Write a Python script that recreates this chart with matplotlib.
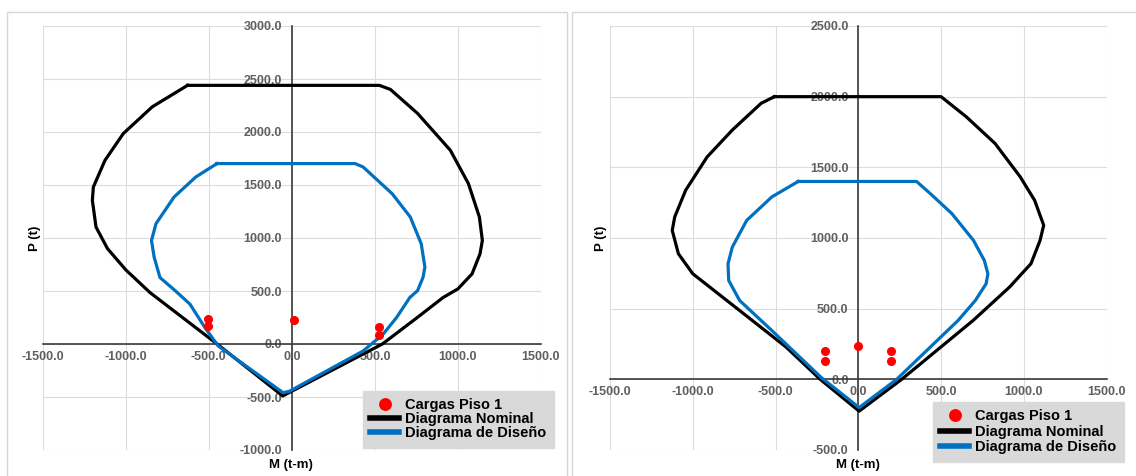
import matplotlib
matplotlib.use("Agg")
import matplotlib.pyplot as plt
from matplotlib.patches import Rectangle

plt.rcParams['font.family'] = ['Liberation Sans', 'DejaVu Sans']

# ---- Column A : interaction diagram (left) ----
M_nom_a = [-628, 527, 593, 757, 954, 1063, 1129, 1147, 1133, 1085, 1000, 910, 757, 545,
           -55, -450, -854, -1000, -1110, -1179, -1201, -1195, -1125, -1015, -840, -628]
P_nom_a = [2440, 2440, 2402, 2175, 1828, 1513, 1198, 977, 851, 662, 520, 438, 252, 0,
           -490, 0, 485, 700, 900, 1103, 1355, 1481, 1733, 1985, 2238, 2440]

M_dis_a = [-451, 381, 429, 604, 713, 779, 801, 790, 757, 710, 630, 549, 429, -12,
           -52, -443, -523, -613, -700, -794, -829, -845, -818, -709, -578, -451]
P_dis_a = [1702, 1702, 1670, 1418, 1198, 945, 725, 630, 504, 438, 249, 92, -66, -444,
           -460, -19, 154, 375, 500, 627, 819, 977, 1135, 1387, 1576, 1702]

M_load_a = [-503, -503, 12, 525, 525]
P_load_a = [239, 170, 224, 161, 85]

# ---- Column B : interaction diagram (right) ----
M_nom_b = [-507, 500, 652, 826, 978, 1065, 1120, 1098, 1043, 913, 695, 262, 5,
           -230, -435, -717, -1000, -1087, -1124, -1109, -1043, -913, -761, -587, -507]
P_nom_b = [2000, 2000, 1858, 1669, 1433, 1267, 1090, 983, 818, 652, 418, 0, -225,
           0, 227, 487, 747, 889, 1054, 1149, 1338, 1574, 1764, 1953, 2000]

M_dis_b = [-363, 352, 435, 565, 696, 761, 783, 772, 707, 604, 232, 5,
           -225, -522, -717, -783, -787, -761, -674, -522, -363]
P_dis_b = [1400, 1400, 1314, 1173, 983, 842, 747, 676, 558, 418, 0, -200,
           14, 345, 558, 700, 818, 936, 1125, 1291, 1400]

M_load_b = [-200, -200, 0, 200, 200]
P_load_b = [198, 130, 235, 198, 130]

x_ticks = [-1500, -1000, -500, 0, 500, 1000, 1500]
y_ticks_a = [-1000, -500, 0, 500, 1000, 1500, 2000, 2500, 3000]
y_ticks_b = [-500, 0, 500, 1000, 1500, 2000, 2500]

labels = ["Cargas Piso 1", "Diagrama Nominal", "Diagrama de Diseño"]

W, H = 1136, 476
fig = plt.figure(figsize=(W / 100, H / 100), dpi=100)
fig.patch.set_facecolor("white")

# panel frames
for x0, x1 in [(7, 567), (572, 1140)]:
    fig.patches.append(Rectangle((x0 / W, -0.05), (x1 - x0) / W, 1.05 - 12 / H,
                                 transform=fig.transFigure, fill=False,
                                 edgecolor="#d6d6d6", linewidth=1.0, zorder=0))


def draw_panel(rect, M_nom, P_nom, M_dis, P_dis, M_ld, P_ld, yticks,
               ylab_x, xlab_x, leg_xy, leg_spacing):
    ax = fig.add_axes(rect)
    ax.set_xlim(x_ticks[0], x_ticks[-1])
    ax.set_ylim(yticks[0], yticks[-1])
    ax.set_xticks(x_ticks)
    ax.set_yticks(yticks)
    ax.set_xticklabels([f"{v:.1f}" for v in x_ticks])
    ax.set_yticklabels([f"{v:.1f}" for v in yticks])
    ax.grid(True, color="#dcdcdc", linewidth=0.8)
    ax.set_axisbelow(True)
    for s in ("top", "right"):
        ax.spines[s].set_visible(False)
    for s in ("left", "bottom"):
        ax.spines[s].set_position(("data", 0))
        ax.spines[s].set_color("#3a3a3a")
        ax.spines[s].set_linewidth(1.2)
        ax.spines[s].set_zorder(1)
    ax.tick_params(axis="both", length=0, labelsize=9, labelcolor="#5f5f5f")
    ax.tick_params(axis="y", pad=7)
    ax.tick_params(axis="x", pad=5)
    for t in ax.get_xticklabels() + ax.get_yticklabels():
        t.set_fontweight("bold")

    h_nom, = ax.plot(M_nom, P_nom, color="black", linewidth=2.3, zorder=3,
                     solid_joinstyle="round")
    h_dis, = ax.plot(M_dis, P_dis, color="#0070C0", linewidth=2.3, zorder=4,
                     solid_joinstyle="round")
    h_ld, = ax.plot(M_ld, P_ld, linestyle="none", marker="o", markersize=5.5,
                    color="#ff0000", zorder=5)

    fig.text(ylab_x / W, 1 - 238 / H, "P (t)", rotation=90, ha="center",
             va="center", fontsize=9.5, fontweight="bold")
    fig.text(xlab_x / W, 1 - 465 / H, "M (t-m)", ha="center", va="center",
             fontsize=9.5, fontweight="bold")

    leg = ax.legend([h_ld, h_nom, h_dis], labels, loc="upper left",
                    bbox_to_anchor=(leg_xy[0] / W, 1 - leg_xy[1] / H),
                    bbox_transform=fig.transFigure, borderaxespad=0,
                    frameon=True, fancybox=False, framealpha=1,
                    facecolor="#d9d9d9", edgecolor="#d9d9d9",
                    prop={"size": 10.5, "weight": "bold"},
                    borderpad=0.5, labelspacing=leg_spacing,
                    handlelength=2.0, handletextpad=0.4, markerscale=1.5)
    for hl in leg.legend_handles:
        if hl.get_linestyle() not in ("None", "none"):
            hl.set_linewidth(4)
    leg.set_zorder(10)
    return ax


draw_panel([42.7 / W, 1 - 450 / H, (541 - 42.7) / W, 424 / H],
           M_nom_a, P_nom_a, M_dis_a, P_dis_a, M_load_a, P_load_a, y_ticks_a,
           35, 291, (363, 391), 0.0)
draw_panel([610 / W, 1 - 450 / H, (1106.6 - 610) / W, 424 / H],
           M_nom_b, P_nom_b, M_dis_b, P_dis_b, M_load_b, P_load_b, y_ticks_b,
           601, 858, (933, 402), 0.1)

fig.savefig("out.png", dpi=100)
